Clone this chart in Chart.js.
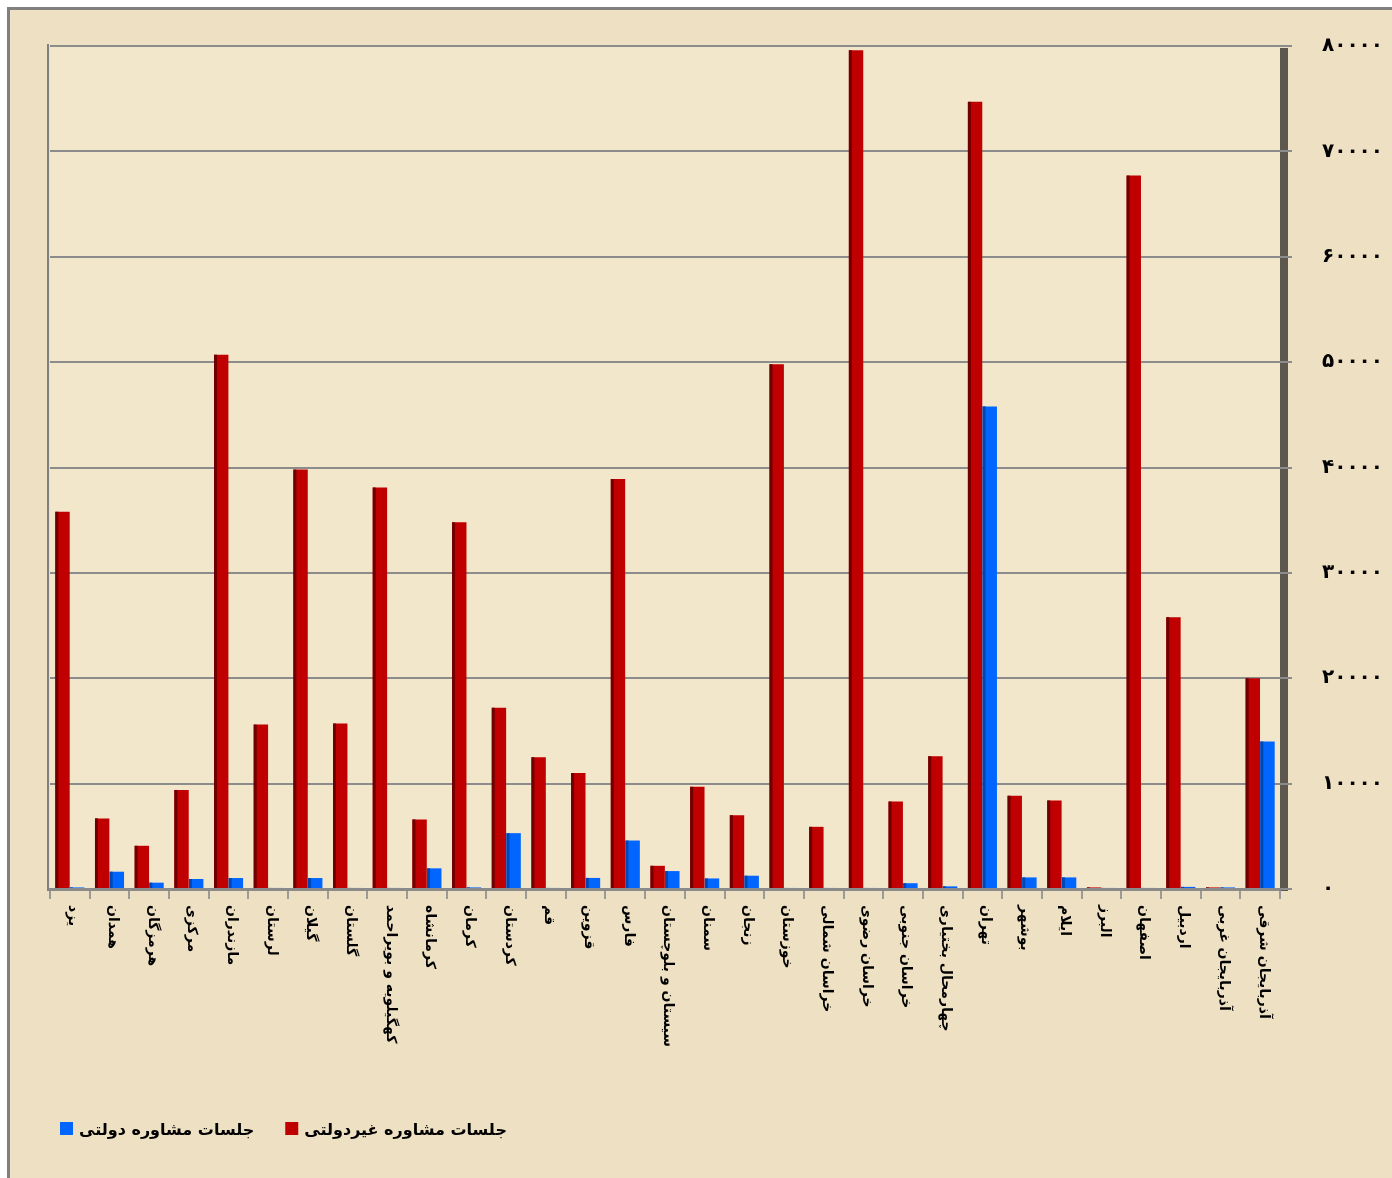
<!DOCTYPE html>
<html lang="fa">
<head>
<meta charset="utf-8">
<title>جلسات مشاوره</title>
<script src="https://cdn.jsdelivr.net/npm/chart.js@4/dist/chart.umd.min.js"></script>
<style>
  html, body { margin: 0; padding: 0; background: #fff; }
  #wrap { width: 1392px; height: 1178px; }
</style>
</head>
<body>
<div id="wrap"><canvas id="sessionsChart" width="1392" height="1178"></canvas></div>
<script>
const provinces = [
  'یزد', 'همدان', 'هرمزگان', 'مرکزی', 'مازندران', 'لرستان', 'گیلان', 'گلستان',
  'کهگیلویه و بویراحمد', 'کرمانشاه', 'کرمان', 'کردستان', 'قم', 'قزوین', 'فارس',
  'سیستان و بلوچستان', 'سمنان', 'زنجان', 'خوزستان', 'خراسان شمالی', 'خراسان رضوی',
  'خراسان جنوبی', 'چهارمحال بختیاری', 'تهران', 'بوشهر', 'ایلام', 'البرز', 'اصفهان',
  'اردبیل', 'آذربایجان غربی', 'آذربایجان شرقی'
];

// non-governmental sessions (red)
const privateSessions = [
  35800, 6700, 4100, 9400, 50700, 15600, 39800, 15700,
  38100, 6600, 34800, 17200, 12500, 11000, 38900,
  2200, 9700, 7000, 49800, 5900, 79600,
  8300, 12600, 74700, 8850, 8400, 150, 67700,
  25800, 150, 20000
];

// governmental sessions (blue)
const publicSessions = [
  150, 1640, 600, 950, 1040, 100, 1040, 100,
  100, 1960, 150, 5300, 100, 1050, 4600,
  1700, 1000, 1260, 100, 100, 100,
  550, 250, 45800, 1100, 1100, 100, 100,
  200, 150, 14000
];

const seriesNames = ['جلسات مشاوره غیردولتی', 'جلسات مشاوره دولتی'];
const yTickLabels = ['۰', '۱۰۰۰۰', '۲۰۰۰۰', '۳۰۰۰۰', '۴۰۰۰۰', '۵۰۰۰۰', '۶۰۰۰۰', '۷۰۰۰۰', '۸۰۰۰۰'];

const FONT = "'DejaVu Sans', 'Noto Sans', sans-serif";

// parchment background + outer frame
const backdrop = {
  id: 'backdrop',
  beforeDraw(chart) {
    const ctx = chart.ctx;
    const a = chart.chartArea;
    ctx.save();
    ctx.fillStyle = '#ffffff';
    ctx.fillRect(0, 0, chart.width, chart.height);
    ctx.fillStyle = '#eee0c2';
    ctx.fillRect(8, 8, chart.width, chart.height);
    ctx.fillStyle = '#f2e6cb';
    ctx.fillRect(a.left, a.top, a.right - a.left, a.bottom - a.top);
    ctx.fillStyle = '#808080';
    ctx.fillRect(7, 7, 3, chart.height);
    ctx.fillRect(7, 7, chart.width, 3);
    // back wall edges
    ctx.fillRect(a.left - 3, a.top - 2, 2, a.bottom - a.top + 4);
    ctx.fillStyle = '#5d574e';
    ctx.fillRect(a.right, a.top + 2, 8, a.bottom - a.top);
    ctx.restore();
  }
};

// darker left face on every bar for the 3D look
const barSides = {
  id: 'barSides',
  afterDatasetsDraw(chart) {
    const ctx = chart.ctx;
    const shades = ['#6e0000', '#0047b3'];
    ctx.save();
    chart.data.datasets.forEach((ds, i) => {
      const meta = chart.getDatasetMeta(i);
      ctx.fillStyle = shades[i];
      meta.data.forEach(bar => {
        const left = bar.x - bar.width / 2;
        ctx.fillRect(left, bar.y, 3, bar.base - bar.y);
      });
    });
    ctx.restore();
  }
};

// category labels read top-to-bottom (rotated clockwise)
const verticalLabels = {
  id: 'verticalLabels',
  afterDraw(chart) {
    const ctx = chart.ctx;
    const xs = chart.scales.x;
    ctx.save();
    ctx.font = 'bold 14px ' + FONT;
    ctx.fillStyle = '#000';
    ctx.textAlign = 'left';
    ctx.textBaseline = 'middle';
    provinces.forEach((name, i) => {
      ctx.save();
      ctx.translate(xs.getPixelForTick(i) + 3, xs.top + 16);
      ctx.rotate(Math.PI / 2);
      ctx.fillText(name, 0, 0);
      ctx.restore();
    });
    ctx.restore();
  }
};

// legend: blue item first on the left, box before text
const bottomLegend = {
  id: 'bottomLegend',
  afterDraw(chart) {
    const ctx = chart.ctx;
    const items = chart.data.datasets.slice().reverse();
    let x = 60;
    const y = 1131;
    ctx.save();
    ctx.font = 'bold 16px ' + FONT;
    ctx.textBaseline = 'middle';
    ctx.textAlign = 'left';
    items.forEach(ds => {
      ctx.fillStyle = ds.backgroundColor;
      ctx.fillRect(x, y - 9, 13, 13);
      ctx.fillStyle = '#000';
      ctx.fillText(ds.label, x + 19, y);
      x += 19 + ctx.measureText(ds.label).width + 31;
    });
    ctx.restore();
  }
};

new Chart(document.getElementById('sessionsChart'), {
  type: 'bar',
  data: {
    labels: provinces,
    datasets: [
      {
        label: seriesNames[0],
        data: privateSessions,
        backgroundColor: '#c00000',
        categoryPercentage: 0.74,
        barPercentage: 0.98
      },
      {
        label: seriesNames[1],
        data: publicSessions,
        backgroundColor: '#0066ff',
        categoryPercentage: 0.74,
        barPercentage: 0.98
      }
    ]
  },
  options: {
    responsive: false,
    animation: false,
    devicePixelRatio: 1,
    layout: { padding: { left: 50, top: 46, right: 0, bottom: 80 } },
    plugins: {
      legend: { display: false },
      tooltip: { enabled: false }
    },
    scales: {
      x: {
        offset: true,
        grid: {
          offset: true,
          drawOnChartArea: false,
          color: '#9a9a9a',
          lineWidth: 2,
          tickLength: 10
        },
        border: { color: '#8a8a8a', width: 3 },
        ticks: { display: false },
        afterFit(scale) { scale.height = 1178 - 80 - 889; }
      },
      y: {
        position: 'right',
        min: 0,
        max: 80000,
        ticks: {
          stepSize: 10000,
          padding: 30,
          color: '#000',
          font: { family: FONT, size: 20, weight: 'bold' },
          callback: (v, i) => yTickLabels[i]
        },
        grid: {
          color: '#8c8c8c',
          lineWidth: 2,
          tickLength: 12
        },
        border: { display: false },
        afterFit(scale) { scale.width = 1392 - 1280; }
      }
    }
  },
  plugins: [backdrop, barSides, verticalLabels, bottomLegend]
});
</script>
</body>
</html>
